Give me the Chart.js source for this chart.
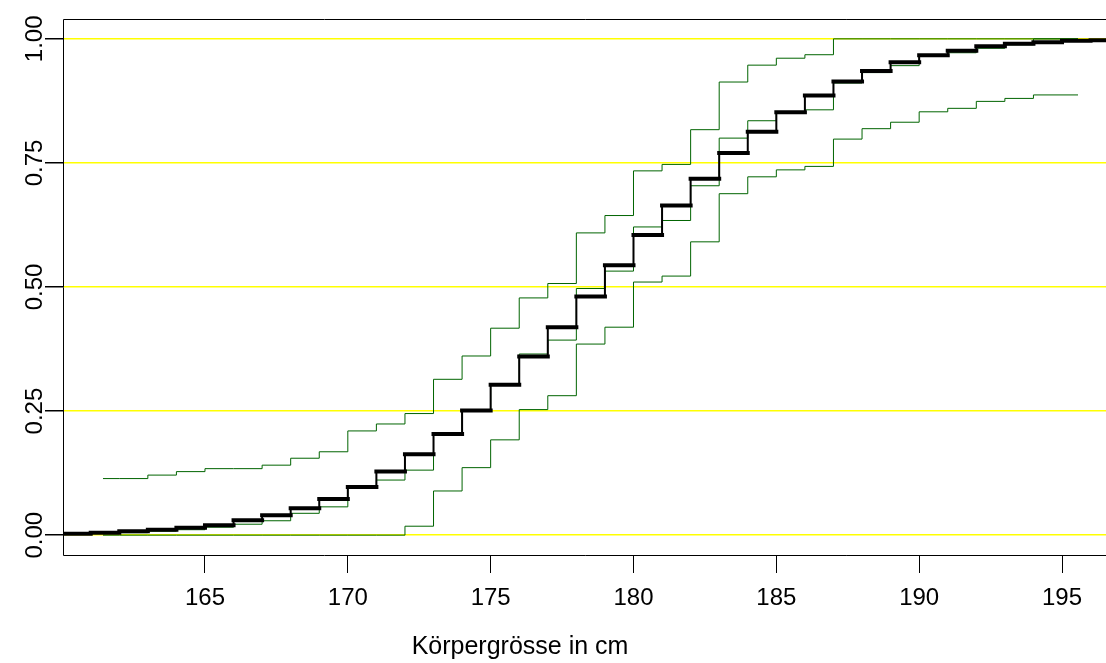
<!DOCTYPE html>
<html>
<head>
<meta charset="utf-8">
<script src="https://cdn.jsdelivr.net/npm/chart.js@4"></script>
<style>
  html, body { margin: 0; padding: 0; background: #ffffff; }
  #wrap { width: 1106px; height: 663px; }
</style>
</head>
<body>
<div id="wrap"><canvas id="c" width="1106" height="663"></canvas></div>
<script>
// Fitted distribution function, evaluated as a step function at whole centimetres
const fitStarts = [160, 161, 162, 163, 164, 165, 166, 167, 168, 169, 170, 171, 172, 173, 174, 175, 176, 177, 178,
                   179, 180, 181, 182, 183, 184, 185, 186, 187, 188, 189, 190, 191, 192, 193, 194, 195, 196];
const fitCdf = [0.003, 0.005, 0.008, 0.011, 0.015, 0.020, 0.030, 0.040, 0.054, 0.073, 0.097, 0.128, 0.163, 0.204,
                0.251, 0.303, 0.360, 0.419, 0.481, 0.544, 0.605, 0.664, 0.718, 0.770, 0.813, 0.852, 0.886, 0.914,
                0.935, 0.953, 0.967, 0.976, 0.985, 0.990, 0.993, 0.996, 0.997];
const fitEnd = 197;

// Empirical distribution function with its lower and upper band
const bandStarts = [161.43, 162, 163, 164, 165, 166, 167, 168, 169, 170, 171, 172, 173, 174, 175, 176, 177, 178,
                    179, 180, 181, 182, 183, 184, 185, 186, 187, 188, 189, 190, 191, 192, 193, 194];
const bandEnd = 195.56;
const ecdfMid = [0.003, 0.005, 0.008, 0.011, 0.016, 0.022, 0.029, 0.044, 0.057, 0.096, 0.111, 0.131, 0.204, 0.250,
                 0.303, 0.365, 0.393, 0.497, 0.532, 0.621, 0.634, 0.704, 0.800, 0.835, 0.850, 0.857, 0.911, 0.932,
                 0.946, 0.965, 0.972, 0.981, 0.988, 1.000];
const upperBand = [0.114, 0.114, 0.121, 0.128, 0.134, 0.134, 0.141, 0.155, 0.168, 0.210, 0.224, 0.245, 0.314, 0.361,
                   0.417, 0.478, 0.507, 0.609, 0.644, 0.734, 0.747, 0.817, 0.913, 0.947, 0.961, 0.968, 1.000, 1.000,
                   1.000, 1.000, 1.000, 1.000, 1.000, 1.000];
const lowerBand = [0, 0, 0, 0, 0, 0, 0, 0, 0, 0, 0, 0.018, 0.089, 0.136, 0.192, 0.253, 0.281, 0.385, 0.419, 0.510,
                   0.522, 0.591, 0.688, 0.722, 0.736, 0.743, 0.798, 0.819, 0.832, 0.853, 0.860, 0.874, 0.880, 0.887];

// Axis ticks and title
const xTicks = [165, 170, 175, 180, 185, 190, 195];
const yTicks = [0, 0.25, 0.5, 0.75, 1];
const yTickLabels = ['0.00', '0.25', '0.50', '0.75', '1.00'];
const xTitle = 'Körpergrösse in cm';

// Points of a right-continuous step function (value holds until the next start)
function stepPoints(starts, values, end) {
  const pts = starts.map((x, i) => ({ x: x, y: values[i] }));
  pts.push({ x: end, y: values[values.length - 1] });
  return pts;
}

// Only the horizontal treads of a step function, separated by gaps
function treadPoints(starts, values, end) {
  const pts = [];
  starts.forEach((x, i) => {
    const next = i + 1 < starts.length ? starts[i + 1] : end;
    pts.push({ x: x, y: values[i] }, { x: next, y: values[i] }, { x: next, y: null });
  });
  return pts;
}

const FONT = "'Liberation Sans', Arial, Helvetica, sans-serif";
const GREEN = '#006400';

// Plot frame (left, top, bottom) drawn over the data
const framePlugin = {
  id: 'frame',
  afterDatasetsDraw(chart) {
    const { ctx, chartArea: a } = chart;
    ctx.save();
    ctx.strokeStyle = '#000';
    ctx.lineWidth = 1;
    ctx.beginPath();
    ctx.moveTo(a.right + 1, Math.round(a.top) + 0.5);
    ctx.lineTo(Math.round(a.left) + 0.5, Math.round(a.top) + 0.5);
    ctx.lineTo(Math.round(a.left) + 0.5, Math.round(a.bottom) + 0.5);
    ctx.lineTo(a.right + 1, Math.round(a.bottom) + 0.5);
    ctx.stroke();
    ctx.restore();
  }
};

// Rotated y tick labels and the x axis title
const textPlugin = {
  id: 'axisText',
  afterDraw(chart) {
    const { ctx } = chart;
    const yScale = chart.scales.y;
    ctx.save();
    ctx.fillStyle = '#000';
    ctx.font = '24px ' + FONT;
    ctx.textAlign = 'center';
    ctx.textBaseline = 'middle';
    yTicks.forEach((v, i) => {
      const py = yScale.getPixelForValue(v);
      ctx.save();
      ctx.translate(35, py);
      ctx.rotate(-Math.PI / 2);
      ctx.fillText(yTickLabels[i], 0, 0);
      ctx.restore();
    });
    ctx.font = '25px ' + FONT;
    ctx.fillText(xTitle, 520, 647);
    ctx.restore();
  }
};

Chart.defaults.font.family = FONT;

new Chart(document.getElementById('c'), {
  type: 'line',
  data: {
    datasets: [
      {
        data: treadPoints(fitStarts, fitCdf, fitEnd),
        borderColor: '#000000',
        borderWidth: 4,
        borderCapStyle: 'square',
        spanGaps: false,
        pointRadius: 0,
        order: 0
      },
      {
        data: stepPoints(fitStarts, fitCdf, fitEnd),
        borderColor: '#000000',
        borderWidth: 2,
        stepped: true,
        pointRadius: 0,
        order: 1
      },
      {
        data: stepPoints(bandStarts, ecdfMid, bandEnd),
        borderColor: GREEN,
        borderWidth: 1,
        stepped: true,
        pointRadius: 0,
        order: 2
      },
      {
        data: stepPoints(bandStarts, upperBand, bandEnd),
        borderColor: GREEN,
        borderWidth: 1,
        stepped: true,
        pointRadius: 0,
        order: 3
      },
      {
        data: stepPoints(bandStarts, lowerBand, bandEnd),
        borderColor: GREEN,
        borderWidth: 1,
        stepped: true,
        pointRadius: 0,
        order: 4
      }
    ]
  },
  options: {
    responsive: false,
    devicePixelRatio: 1,
    animation: false,
    events: [],
    layout: { padding: { top: 19, right: 0, bottom: 0, left: 0 } },
    plugins: { legend: { display: false }, tooltip: { enabled: false } },
    scales: {
      x: {
        type: 'linear',
        min: 160.03,
        max: 196.54,
        afterBuildTicks(scale) { scale.ticks = xTicks.map(v => ({ value: v })); },
        afterFit(scale) { scale.height = 108; },
        border: { display: false },
        grid: {
          drawOnChartArea: false,
          drawTicks: true,
          tickLength: 18,
          tickColor: '#000',
          color: '#000',
          lineWidth: 1
        },
        ticks: {
          color: '#000',
          font: { size: 24 },
          padding: 11,
          maxRotation: 0,
          autoSkip: false,
          callback: v => String(v)
        },
        title: { display: false }
      },
      y: {
        type: 'linear',
        min: -0.04,
        max: 1.04,
        afterBuildTicks(scale) { scale.ticks = yTicks.map(v => ({ value: v })); },
        afterFit(scale) { scale.width = 63; },
        border: { display: false },
        grid: {
          drawOnChartArea: true,
          drawTicks: true,
          tickLength: 18,
          tickColor: '#000',
          color: '#ffff00',
          lineWidth: 1.5
        },
        ticks: { display: false }
      }
    }
  },
  plugins: [framePlugin, textPlugin]
});
</script>
</body>
</html>
